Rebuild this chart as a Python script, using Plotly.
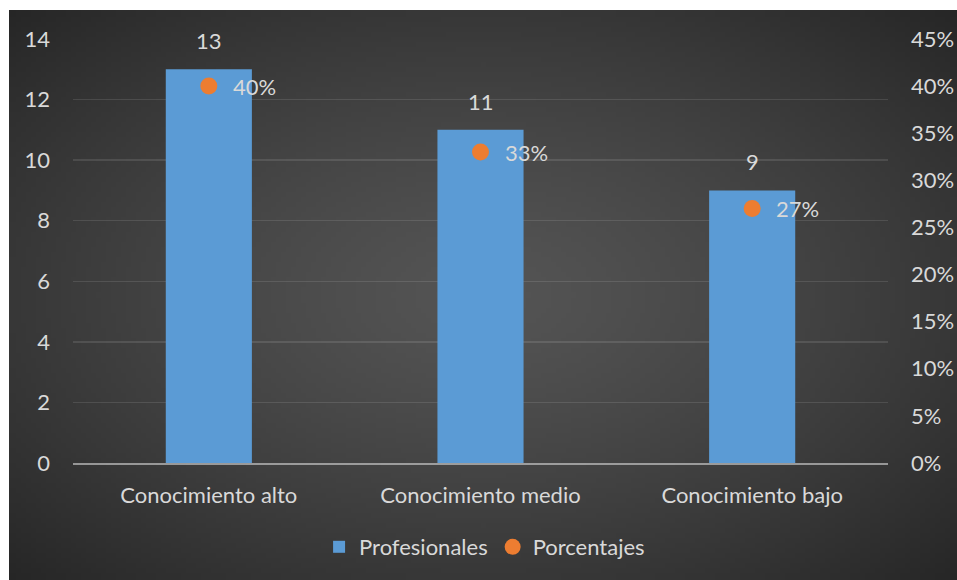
import base64
import struct
import zlib
import plotly.graph_objects as go

# ---------------- data ----------------
categories = ["Conocimiento alto", "Conocimiento medio", "Conocimiento bajo"]
profesionales = [13, 11, 9]
porcentajes = [0.40, 0.33, 0.27]
pct_labels = ["40%", "33%", "27%"]
left_tickvals = [0, 2, 4, 6, 8, 10, 12, 14]
right_tickvals = [0, 0.05, 0.10, 0.15, 0.20, 0.25, 0.30, 0.35, 0.40, 0.45]

# ---------------- styling helpers ----------------
W, H = 957, 580
L, R, T, B = 73, 69, 39, 117
PW, PH = W - L - R, H - T - B
TXT = "#d9d9d9"
FONT = "Lato, Carlito, Calibri, 'Open Sans', sans-serif"


def gradient_png(w, h, center, edge, gamma):
    rows = []
    for j in range(h):
        row = bytearray([0])
        for i in range(w):
            dx = (i + 0.5 - w / 2) / (w / 2)
            dy = (j + 0.5 - h / 2) / (h / 2)
            t = min(1.0, ((dx * dx + dy * dy) ** 0.5) / 2 ** 0.5)
            v = int(round(center - (center - edge) * t ** gamma))
            row += bytes([v, v, v])
        rows.append(bytes(row))
    raw = b"".join(rows)

    def chunk(tag, data):
        c = struct.pack(">I", len(data)) + tag + data
        return c + struct.pack(">I", zlib.crc32(tag + data) & 0xFFFFFFFF)

    png = (b"\x89PNG\r\n\x1a\n"
           + chunk(b"IHDR", struct.pack(">IIBBBBB", w, h, 8, 2, 0, 0, 0))
           + chunk(b"IDAT", zlib.compress(raw, 9))
           + chunk(b"IEND", b""))
    return "data:image/png;base64," + base64.b64encode(png).decode()


bg = gradient_png(190, 114, 84, 38, 1.3)

fig = go.Figure()
fig.add_trace(go.Bar(
    x=categories, y=profesionales, name="Profesionales",
    marker=dict(color="#5b9bd5", line=dict(width=0)),
    hoverinfo="skip",
))
fig.add_trace(go.Scatter(
    x=categories, y=porcentajes, name="Porcentajes", yaxis="y2",
    mode="markers", marker=dict(size=17, color="#ed7d31"),
    hoverinfo="skip",
))

annotations = []
for c, v in zip(categories, profesionales):
    annotations.append(dict(x=c, y=v, xref="x", yref="y", text=str(v),
                            showarrow=False, yanchor="bottom", yshift=13,
                            font=dict(size=22, color=TXT, family=FONT)))
for c, p, lab in zip(categories, porcentajes, pct_labels):
    annotations.append(dict(x=c, y=p, xref="x", yref="y2", text=lab,
                            showarrow=False, xanchor="left", yanchor="middle",
                            xshift=22,
                            font=dict(size=22, color=TXT, family=FONT)))

fig.update_layout(
    width=W, height=H,
    margin=dict(l=L, r=R, t=T, b=B, autoexpand=False),
    paper_bgcolor="white",
    plot_bgcolor="rgba(0,0,0,0)",
    font=dict(family=FONT, size=22, color=TXT),
    bargap=0.683,
    showlegend=True,
    legend=dict(orientation="h", x=0.505, xanchor="center",
                y=(T + PH - 547) / PH, yanchor="middle",
                bgcolor="rgba(0,0,0,0)", font=dict(size=22, color=TXT),
                itemwidth=30, traceorder="normal"),
    xaxis=dict(showgrid=False, zeroline=False, ticks="",
               showline=True, linecolor="rgba(217,217,217,0.6)", linewidth=2,
               layer="above traces", tickfont=dict(size=22, color=TXT),
               ticklabelstandoff=12, fixedrange=True),
    yaxis=dict(range=[0, 14], tickvals=left_tickvals, ticks="",
               showgrid=True, gridcolor="rgba(255,255,255,0.11)", gridwidth=1.5,
               zeroline=False, showline=False,
               tickfont=dict(size=22, color=TXT), ticklabelstandoff=22,
               fixedrange=True),
    yaxis2=dict(range=[0, 0.45], tickvals=right_tickvals, tickformat=".0%",
                overlaying="y", side="right", ticks="",
                showgrid=False, zeroline=False, showline=False,
                tickfont=dict(size=22, color=TXT), ticklabelstandoff=22,
                fixedrange=True),
    annotations=annotations,
    images=[dict(source=bg, xref="paper", yref="paper",
                 x=(9 - L) / PW, y=(T + PH - 10) / PH,
                 sizex=(W - 9) / PW, sizey=(H - 10) / PH,
                 xanchor="left", yanchor="top", sizing="stretch",
                 layer="below")],
)

fig.write_html(
    "out.html",
    config=dict(displayModeBar=False, staticPlot=True),
    post_script="document.body.style.margin='0';document.body.style.overflow='hidden';",
)
